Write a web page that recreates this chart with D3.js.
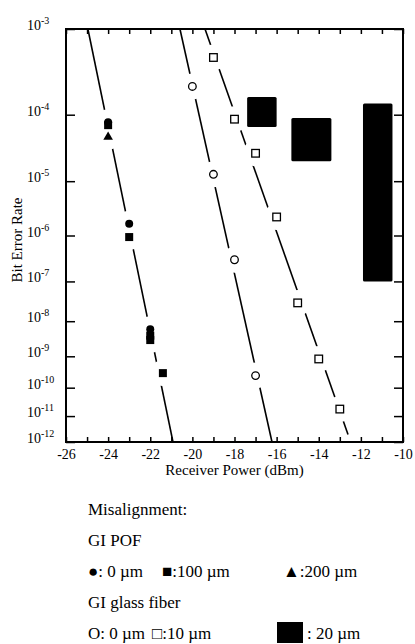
<!DOCTYPE html>
<html lang="en">
<head>
  <meta charset="UTF-8">
  <title>Bit Error Rate vs Receiver Power</title>
  <style>
    body { margin: 0; background: #fff; }
    svg { display: block; }
    text { font-family: "Liberation Serif", "Times New Roman", serif; fill: #000; }
  </style>
</head>
<body>
  <svg width="415" height="644"></svg>
  <script src="https://d3js.org/d3.v7.min.js"></script>
  <script>
    // x ticks (dBm) and y decades (BER exponents)
    const xTicks = d3.range(-26, -9, 1);
    const xLabels = d3.range(-26, -9, 2);
    const yExps = [-3, -4, -5, -6, -7, -8, -9, -10, -11, -12];

    // GI POF measured points
    const pof0X = [-24, -23, -22];
    const pof0Y = [7.9e-5, 1.7e-6, 6e-9];
    const pof100X = [-24, -23, -22, -22, -21.4];
    const pof100Y = [7.2e-5, 9.3e-7, 4e-9, 3e-9, 3e-10];
    const pof200X = [-24];
    const pof200Y = [4.9e-5];

    // GI glass fiber measured points
    const gl0X = [-20, -19, -18, -17];
    const gl0Y = [2.3e-4, 1.3e-5, 3.1e-7, 2.5e-10];
    const gl10X = [-19, -18, -17, -16, -15, -14, -13];
    const gl10Y = [5e-4, 8.7e-5, 2.8e-5, 2.3e-6, 3e-8, 8.3e-10, 1.8e-11];

    // 20 um: BER floor ranges (x from..to, BER high..low)
    const gl20X0 = [-17.4, -15.3, -11.9];
    const gl20X1 = [-16.0, -13.4, -10.5];
    const gl20Hi = [1.7e-4, 9e-5, 1.4e-4];
    const gl20Lo = [6.8e-5, 2.1e-5, 1e-7];

    // fitted lines: [x, BER] end points
    const fitPof = [[-24.96, 1e-3], [-20.92, 1e-12]];
    const fitGl0 = [[-20.59, 1e-3], [-16.22, 1e-12]];
    const fitGl10 = [[-19.4, 1e-3], [-12.61, 2e-12]];

    const svg = d3.select("svg");
    const mLeft = 66, mRight = 403, mTop = 29, mBottom = 442;

    const x = d3.scaleLinear().domain([-26, -10]).range([mLeft, mRight]);
    // BER paper: linear in log10(-log10(BER))
    const tr = v => Math.log10(-Math.log10(v));
    const yl = d3.scaleLinear().domain([tr(1e-3), tr(1e-12)]).range([mTop, mBottom]);
    const y = v => yl(tr(v));

    const pts = (xs, ys) => xs.map((d, i) => ({ x: d, y: ys[i] }));
    const allPts = [].concat(pts(pof0X, pof0Y), pts(pof100X, pof100Y), pts(pof200X, pof200Y),
      pts(gl0X, gl0Y), pts(gl10X, gl10Y));

    // fitted lines
    const line = d3.line().x(d => x(d[0])).y(d => y(d[1]));
    svg.append("g").selectAll("path")
      .data([fitPof, fitGl0, fitGl10])
      .join("path")
      .attr("d", line)
      .attr("fill", "none")
      .attr("stroke", "#000")
      .attr("stroke-width", 1.6);

    // white gaps round markers
    svg.append("g").selectAll("circle")
      .data(allPts)
      .join("circle")
      .attr("cx", d => x(d.x))
      .attr("cy", d => y(d.y))
      .attr("r", 13)
      .attr("fill", "#fff");

    // 20 um floor blocks
    svg.append("g").selectAll("rect")
      .data(gl20X0.map((d, i) => ({ x0: d, x1: gl20X1[i], hi: gl20Hi[i], lo: gl20Lo[i] })))
      .join("rect")
      .attr("x", d => x(d.x0))
      .attr("y", d => y(d.hi))
      .attr("width", d => x(d.x1) - x(d.x0))
      .attr("height", d => y(d.lo) - y(d.hi))
      .attr("rx", 1.5)
      .attr("fill", "#000");

    // markers
    const m = svg.append("g");
    m.selectAll(".c0").data(pts(pof0X, pof0Y)).join("circle")
      .attr("cx", d => x(d.x)).attr("cy", d => y(d.y)).attr("r", 4).attr("fill", "#000");
    m.selectAll(".s100").data(pts(pof100X, pof100Y)).join("rect")
      .attr("x", d => x(d.x) - 4).attr("y", d => y(d.y) - 4)
      .attr("width", 8).attr("height", 8).attr("fill", "#000");
    m.selectAll(".t200").data(pts(pof200X, pof200Y)).join("path")
      .attr("d", d3.symbol(d3.symbolTriangle, 40))
      .attr("transform", d => `translate(${x(d.x)},${y(d.y)})`)
      .attr("fill", "#000");
    m.selectAll(".oc").data(pts(gl0X, gl0Y)).join("circle")
      .attr("cx", d => x(d.x)).attr("cy", d => y(d.y)).attr("r", 3.8)
      .attr("fill", "#fff").attr("stroke", "#000").attr("stroke-width", 1.3);
    m.selectAll(".os").data(pts(gl10X, gl10Y)).join("rect")
      .attr("x", d => x(d.x) - 3.8).attr("y", d => y(d.y) - 3.8)
      .attr("width", 7.6).attr("height", 7.6)
      .attr("fill", "#fff").attr("stroke", "#000").attr("stroke-width", 1.3);

    // frame
    svg.append("rect")
      .attr("x", mLeft).attr("y", mTop)
      .attr("width", mRight - mLeft).attr("height", mBottom - mTop)
      .attr("fill", "none").attr("stroke", "#000").attr("stroke-width", 2);

    // x axis, ticks pointing inward
    const xAxis = d3.axisBottom(x).tickValues(xTicks).tickSize(-5).tickPadding(7)
      .tickFormat(d => xLabels.includes(d) ? "-" + Math.abs(d) : "");
    const gx = svg.append("g").attr("transform", `translate(0,${mBottom})`).call(xAxis);
    gx.select(".domain").remove();
    gx.selectAll("line").attr("stroke-width", 1.5);
    gx.selectAll("text").attr("font-size", 14).attr("font-family", "Liberation Serif");

    const gxt = svg.append("g").attr("transform", `translate(0,${mTop})`)
      .call(d3.axisTop(x).tickValues(xTicks).tickSize(-5).tickFormat(""));
    gxt.select(".domain").remove();
    gxt.selectAll("line").attr("stroke-width", 1.5);

    // y ticks on both sides
    const yTickVals = yExps.map(e => tr(Math.pow(10, e)));
    const gy = svg.append("g").attr("transform", `translate(${mLeft},0)`)
      .call(d3.axisLeft(yl).tickValues(yTickVals).tickSize(-9).tickFormat(""));
    gy.select(".domain").remove();
    gy.selectAll("line").attr("stroke-width", 1.5);
    const gyr = svg.append("g").attr("transform", `translate(${mRight},0)`)
      .call(d3.axisRight(yl).tickValues(yTickVals).tickSize(-9).tickFormat(""));
    gyr.select(".domain").remove();
    gyr.selectAll("line").attr("stroke-width", 1.5);

    // y labels 10^n
    const yl10 = svg.append("g").selectAll("text")
      .data(yExps)
      .join("text")
      .attr("x", 27)
      .attr("y", d => y(Math.pow(10, d)) + 1)
      .attr("font-size", 14);
    yl10.append("tspan").text("10");
    yl10.append("tspan").attr("dy", -6).attr("font-size", 10).text(d => "-" + Math.abs(d));

    // axis titles
    svg.append("text")
      .attr("x", (mLeft + mRight) / 2)
      .attr("y", 475)
      .attr("text-anchor", "middle")
      .attr("font-size", 15)
      .text("Receiver Power (dBm)");
    svg.append("text")
      .attr("transform", "translate(22,240) rotate(-90)")
      .attr("text-anchor", "middle")
      .attr("font-size", 15)
      .text("Bit Error Rate");

    // legend
    const lg = svg.append("g").attr("font-size", 17);
    lg.append("text").attr("x", 88).attr("y", 515).text("Misalignment:");
    lg.append("text").attr("x", 88).attr("y", 546).text("GI POF");
    lg.append("text").attr("x", 88).attr("y", 577).text("●: 0 µm");
    lg.append("text").attr("x", 162).attr("y", 577).text("■:100 µm");
    lg.append("text").attr("x", 283).attr("y", 577).text("▲:200 µm");
    lg.append("text").attr("x", 88).attr("y", 608).text("GI glass fiber");
    lg.append("text").attr("x", 88).attr("y", 639).text("O: 0 µm");
    lg.append("text").attr("x", 152).attr("y", 639).text("□:10 µm");
    lg.append("rect").attr("x", 277).attr("y", 622).attr("width", 26).attr("height", 21).attr("fill", "#000");
    lg.append("text").attr("x", 307).attr("y", 639).text(": 20 µm");
  </script>
</body>
</html>
